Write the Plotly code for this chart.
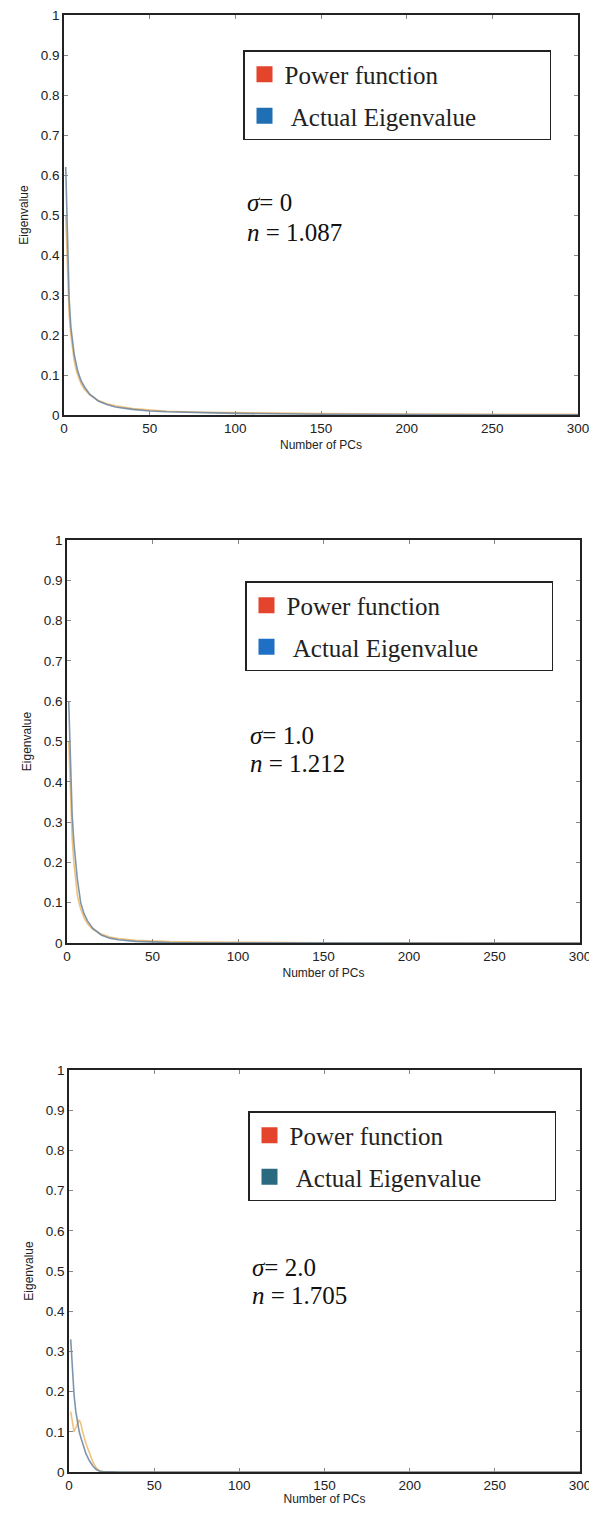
import plotly.graph_objects as go

# ---------------- data ----------------
pcs_a = [1, 2, 3, 4, 5, 6, 7, 8, 10, 12, 15, 20, 25, 30, 40, 50, 60, 80, 100, 150, 200, 250, 300]
actual_s0 = [0.62, 0.42, 0.29, 0.22, 0.18, 0.15, 0.13, 0.11, 0.085, 0.07, 0.052, 0.035, 0.026, 0.02,
             0.014, 0.01, 0.008, 0.006, 0.004, 0.002, 0.001, 0.0005, 0.0003]
power_s0 = [0.5, 0.35, 0.25, 0.2, 0.165, 0.135, 0.115, 0.1, 0.078, 0.064, 0.05, 0.036, 0.028, 0.023,
            0.016, 0.012, 0.0095, 0.007, 0.0055, 0.0035, 0.0025, 0.002, 0.0016]

actual_s1 = [0.6, 0.45, 0.32, 0.25, 0.2, 0.16, 0.13, 0.1, 0.072, 0.055, 0.037, 0.02, 0.012, 0.008,
             0.004, 0.002, 0.001, 0.0005, 0.0003, 0.0001, 0.0, 0.0, 0.0]
power_s1 = [0.5, 0.35, 0.26, 0.2, 0.15, 0.12, 0.1, 0.085, 0.062, 0.048, 0.034, 0.022, 0.015, 0.011,
            0.007, 0.005, 0.0035, 0.0022, 0.0015, 0.0008, 0.0005, 0.0004, 0.0003]

pcs_c = [1, 2, 3, 4, 5, 6, 7, 8, 10, 12, 14, 16, 18, 20, 30, 50, 100, 150, 200, 250, 300]
actual_s2 = [0.33, 0.24, 0.19, 0.15, 0.12, 0.1, 0.085, 0.07, 0.045, 0.028, 0.015, 0.006, 0.002, 0.001,
             0.0, 0.0, 0.0, 0.0, 0.0, 0.0, 0.0]
power_s2 = [0.15, 0.12, 0.1, 0.11, 0.12, 0.13, 0.12, 0.1, 0.07, 0.045, 0.025, 0.01, 0.003, 0.001,
            0.0, 0.0, 0.0, 0.0, 0.0, 0.0, 0.0]

sigma_labels = ["0", "1.0", "2.0"]
n_labels = ["1.087", "1.212", "1.705"]
series_names = ["Power function", "Actual Eigenvalue"]

x_ticks = [0, 50, 100, 150, 200, 250, 300]
y_ticks = [0, 0.1, 0.2, 0.3, 0.4, 0.5, 0.6, 0.7, 0.8, 0.9, 1]
y_ticktext = ["0", "0.1", "0.2", "0.3", "0.4", "0.5", "0.6", "0.7", "0.8", "0.9", "1"]

# ---------------- layout geometry (window pixels) ----------------
WIN_W, WIN_H = 597, 1514
OFF = 8                      # default page body margin
W, H = WIN_W - OFF, WIN_H - 2 * OFF
panels = [
    dict(x0=64, x1=578, y0=15, y1=415, leg=(243, 50), txt=(245, 202, 232), pcs=pcs_a,
         act=actual_s0, pw=power_s0, actcol="#1f6fb5"),
    dict(x0=67, x1=580, y0=540, y1=943, leg=(245, 581), txt=(248, 735, 764), pcs=pcs_a,
         act=actual_s1, pw=power_s1, actcol="#1f6fc5"),
    dict(x0=69, x1=580, y0=1070, y1=1472, leg=(248, 1111), txt=(250, 1267, 1295), pcs=pcs_c,
         act=actual_s2, pw=power_s2, actcol="#2a6a80"),
]

def px(v):
    return (v - OFF) / W

def py(v):
    return 1 - (v - OFF) / H

fig = go.Figure()
annotations = []
layout_kw = {}

for i, p in enumerate(panels):
    k = "" if i == 0 else str(i + 1)
    xa, ya = "x" + k, "y" + k
    leg = "legend" + k
    # curves
    fig.add_trace(go.Scatter(x=p["pcs"], y=p["pw"], mode="lines", xaxis=xa, yaxis=ya,
                             line=dict(color="rgba(235,175,80,0.75)", width=1.6),
                             showlegend=False, hoverinfo="skip"))
    fig.add_trace(go.Scatter(x=p["pcs"], y=p["act"], mode="lines", xaxis=xa, yaxis=ya,
                             line=dict(color="rgba(105,130,160,0.85)", width=1.6),
                             showlegend=False, hoverinfo="skip"))
    # legend entries
    fig.add_trace(go.Scatter(x=[None], y=[None], mode="markers", xaxis=xa, yaxis=ya,
                             name=series_names[0] + "\u00a0" * 17, legend=leg, legendgroup="a" + k,
                             marker=dict(symbol="square", size=19, color="#e4432c")))
    fig.add_trace(go.Scatter(x=[None], y=[None], mode="markers", xaxis=xa, yaxis=ya,
                             name="\u00a0" + series_names[1], legend=leg, legendgroup="b" + k,
                             marker=dict(symbol="square", size=19, color=p["actcol"])))

    axis_common = dict(showline=True, linecolor="#222", linewidth=1.5, mirror="allticks",
                       ticks="inside", ticklen=4, tickcolor="#888", showgrid=False, zeroline=False,
                       automargin=False, ticklabeloverflow="allow",
                       tickfont=dict(family="Liberation Sans, Arial", size=13.5, color="#222"))
    layout_kw["xaxis" + k] = dict(axis_common, domain=[px(p["x0"]), px(p["x1"])], range=[0, 300],
                                 tickvals=x_ticks, anchor=ya,
                                 title=dict(text="Number of PCs", standoff=6,
                                            font=dict(family="Liberation Sans, Arial", size=12, color="#222")))
    layout_kw["yaxis" + k] = dict(axis_common, domain=[py(p["y1"]), py(p["y0"])], range=[0, 1],
                                 tickvals=y_ticks, ticktext=y_ticktext, anchor=xa,
                                 title=dict(text="Eigenvalue", standoff=10,
                                            font=dict(family="Liberation Sans, Arial", size=12, color="#222")))
    layout_kw[leg] = dict(x=px(p["leg"][0]), y=py(p["leg"][1]), xanchor="left", yanchor="top",
                          bordercolor="#222", borderwidth=1.5, bgcolor="white",
                          tracegroupgap=6, itemwidth=30,
                          font=dict(family="Liberation Serif, Times New Roman", size=25, color="#222"))
    tx, ty1, ty2 = p["txt"]
    annotations.append(dict(x=px(tx), y=py(ty1), xref="paper", yref="paper", xanchor="left",
                            yanchor="middle", showarrow=False,
                            text="<i>σ</i>= " + sigma_labels[i],
                            font=dict(family="Liberation Serif, Times New Roman", size=25, color="#111")))
    annotations.append(dict(x=px(tx), y=py(ty2), xref="paper", yref="paper", xanchor="left",
                            yanchor="middle", showarrow=False,
                            text="<i>n</i> = " + n_labels[i],
                            font=dict(family="Liberation Serif, Times New Roman", size=25, color="#111")))

fig.update_layout(width=W, height=H, margin=dict(l=0, r=0, t=0, b=0),
                  paper_bgcolor="white", plot_bgcolor="white",
                  annotations=annotations, **layout_kw)

fig.write_html("out.html")
